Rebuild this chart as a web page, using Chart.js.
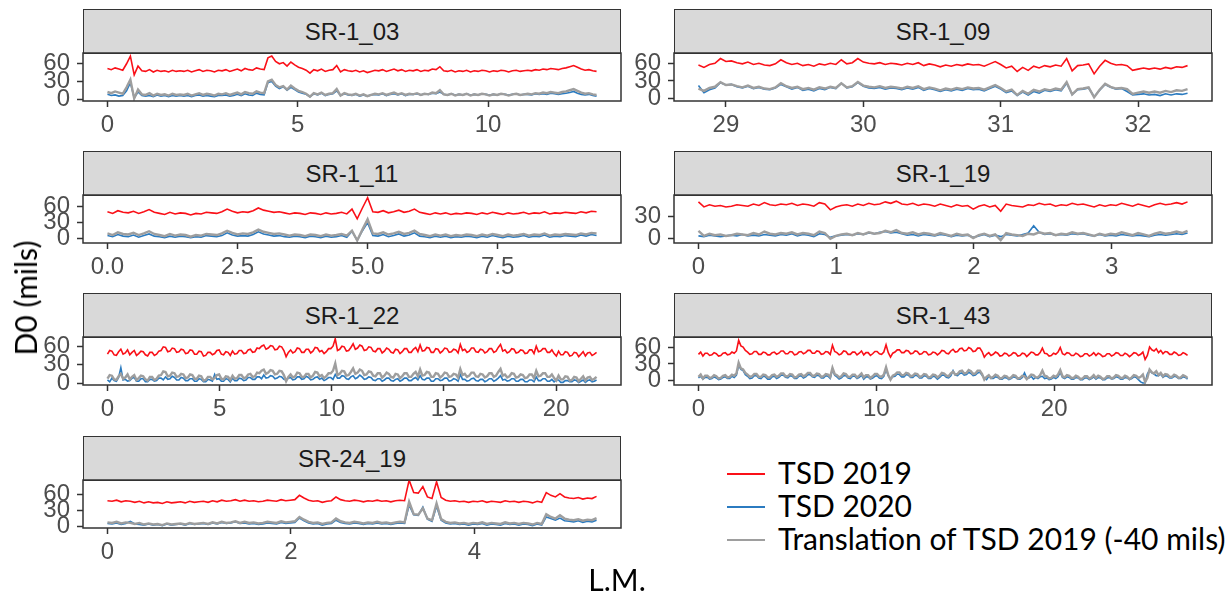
<!DOCTYPE html>
<html lang="en">
<head>
<meta charset="UTF-8">
<title>D0 along L.M. – TSD 2019 vs 2020</title>
<script src="https://cdn.jsdelivr.net/npm/chart.js"></script>
<style>
  body { margin: 0; background: #fff; }
  #fig { position: relative; width: 1231px; height: 596px; overflow: hidden; font-family: "Liberation Sans", Arial, sans-serif; }
  .strip { position: absolute; box-sizing: border-box; background: #d9d9d9; border: 1.5px solid #333; color: #1a1a1a;
           font-size: 24px; display: flex; align-items: center; justify-content: center; }
  .panel { position: absolute; }
  .txt { position: absolute; font-family: Lato, sans-serif; font-size: 30px; color: #000; white-space: nowrap; line-height: 1.2; }
  .swatch { position: absolute; height: 2px; width: 38px; }
</style>
</head>
<body>
<div id="fig"></div>
<script>
// ---- data -------------------------------------------------------------
const PANEL_NAMES = ['SR-1_03', 'SR-1_09', 'SR-1_11', 'SR-1_19', 'SR-1_22', 'SR-1_43', 'SR-24_19'];
const SERIES_NAMES = ['TSD 2019', 'TSD 2020', 'Translation of TSD 2019 (-40 mils)'];
const SHIFT = 40; // the translated series is TSD 2019 moved down by 40 mils

const Y_TICKS = ['0', '30', '60'];

// L.M. covered by each section [first, last]
const SR_1_03_LM = [0, 12.85];
const SR_1_09_LM = [28.80, 32.36];
const SR_1_11_LM = [0, 9.4];
const SR_1_19_LM = [0, 3.55];
const SR_1_22_LM = [0, 21.8];
const SR_1_43_LM = [0, 27.5];
const SR_24_19_LM = [0, 5.33];

const SR_1_03_XTICKS = ['0', '5', '10'];
const SR_1_09_XTICKS = ['29', '30', '31', '32'];
const SR_1_11_XTICKS = ['0.0', '2.5', '5.0', '7.5'];
const SR_1_19_XTICKS = ['0', '1', '2', '3'];
const SR_1_22_XTICKS = ['0', '5', '10', '15', '20'];
const SR_1_43_XTICKS = ['0', '10', '20'];
const SR_24_19_XTICKS = ['0', '2', '4'];

const SR_1_03_TSD2019 = [
  52, 50, 53, 51, 49, 60, 73, 41, 56, 48,
  47, 50, 46, 49, 47, 48, 46, 49, 47, 48,
  47, 49, 46, 48, 50, 47, 49, 48, 46, 49,
  48, 50, 47, 49, 51, 48, 52, 50, 49, 53,
  51, 50, 70, 73, 64, 60, 62, 56, 63, 58,
  54, 52, 49, 44, 50, 48, 51, 47, 49, 50,
  57, 46, 50, 48, 47, 49, 46, 48, 45, 47,
  49, 48, 50, 47, 49, 51, 48, 50, 47, 49,
  48, 50, 47, 49, 48, 51, 50, 55, 48, 47,
  49, 46, 48, 47, 49, 46, 48, 47, 49, 48,
  46, 48, 47, 49, 48, 46, 48, 49, 47, 48,
  49, 48, 50, 49, 51, 50, 52, 51, 50, 52,
  53, 55, 57, 54, 51, 49, 50, 48, 47
];
const SR_1_03_TSD2020 = [
  8, 6, 7, 5, 6, 14, 28, 2, 12, 6,
  5, 6, 4, 7, 5, 6, 4, 6, 5, 6,
  5, 6, 4, 6, 7, 5, 6, 5, 4, 6,
  6, 7, 5, 6, 8, 6, 9, 7, 6, 10,
  8, 7, 28, 30, 22, 18, 21, 15, 20, 16,
  12, 10, 8, 4, 9, 7, 10, 6, 8, 9,
  14, 6, 9, 7, 6, 8, 5, 7, 5, 7,
  8, 7, 9, 6, 8, 9, 7, 9, 6, 8,
  8, 9, 7, 9, 8, 10, 9, 12, 8, 7,
  9, 7, 8, 7, 9, 7, 8, 7, 9, 8,
  7, 8, 7, 9, 8, 7, 8, 9, 7, 8,
  8, 7, 9, 8, 9, 8, 10, 9, 8, 9,
  10, 11, 13, 10, 8, 7, 8, 6, 5
];

const SR_1_09_TSD2019 = [
  57, 53, 58, 60, 68, 63, 64, 61, 59, 62,
  58, 60, 57, 56, 59, 66, 61, 58, 60, 56,
  58, 55, 59, 57, 60, 58, 66, 59, 61, 68,
  62, 60, 59, 61, 58, 60, 59, 57, 60, 58,
  61, 56, 59, 57, 54, 57, 55, 58, 56, 59,
  57, 58, 55, 59, 63, 58, 52, 55, 46, 53,
  48, 55, 52, 56, 54, 57, 55, 68, 47, 56,
  57, 59, 42, 55, 65, 60, 57, 58, 56, 48,
  50, 52, 50, 52, 50, 53, 51, 54, 53, 56
];
const SR_1_09_TSD2020 = [
  22, 10, 15, 18, 27, 23, 24, 20, 18, 21,
  17, 19, 16, 15, 18, 24, 20, 16, 19, 14,
  16, 13, 17, 15, 19, 17, 26, 18, 20, 27,
  21, 18, 17, 19, 16, 18, 17, 15, 18, 16,
  19, 14, 17, 15, 12, 15, 13, 16, 14, 17,
  15, 16, 13, 17, 21, 16, 10, 13, 5, 11,
  6, 12, 9, 14, 12, 15, 13, 26, 7, 15,
  16, 18, 3, 14, 24, 19, 16, 17, 12, 6,
  7, 8, 6, 7, 5, 8, 6, 8, 7, 9
];

const SR_1_11_TSD2019 = [
  50, 47, 52, 49, 48, 51, 47, 50, 54, 49,
  47, 45, 49, 46, 48, 47, 44, 47, 46, 49,
  48, 47, 50, 55, 51, 48, 50, 49, 52, 57,
  53, 51, 49, 50, 48, 46, 48, 47, 45, 48,
  47, 45, 48, 46, 47, 49, 46, 55, 37, 57,
  76, 50, 49, 52, 48, 50, 53, 49, 51, 55,
  49, 47, 45, 48, 46, 48, 45, 47, 46, 48,
  47, 45, 48, 46, 49, 47, 45, 48, 46, 47,
  49, 46, 48, 47, 50, 46, 48, 47, 49, 48,
  47, 50, 48, 51, 50
];
const SR_1_11_TSD2020 = [
  6, 4, 8, 5, 4, 7, 3, 6, 9, 5,
  4, 2, 5, 3, 5, 4, 2, 4, 3, 6,
  5, 4, 6, 11, 7, 5, 6, 5, 8, 13,
  9, 7, 5, 6, 4, 3, 5, 4, 2, 5,
  4, 2, 5, 3, 4, 6, 3, 14, -3, 15,
  30, 6, 5, 8, 4, 6, 9, 5, 7, 11,
  5, 4, 2, 5, 3, 5, 2, 4, 3, 5,
  4, 2, 5, 3, 6, 4, 2, 5, 3, 4,
  6, 3, 5, 4, 7, 3, 5, 4, 6, 5,
  4, 7, 5, 8, 6
];

const SR_1_19_TSD2019 = [
  50, 43, 46, 44, 45, 43, 44, 46, 45, 44,
  47, 45, 49, 46, 45, 47, 46, 48, 45, 47,
  46, 44, 49, 47, 39, 43, 45, 46, 44, 47,
  45, 48, 46, 47, 50, 48, 51, 47, 46, 48,
  45, 47, 46, 44, 47, 45, 43, 46, 44, 45,
  40, 44, 46, 43, 45, 37, 47, 45, 44, 43,
  46, 45, 48, 46, 47, 44, 46, 45, 48, 46,
  47, 45, 43, 46, 44, 46, 45, 48, 46, 44,
  47, 45, 43, 46, 48, 46, 47, 49, 47, 50
];
const SR_1_19_TSD2020 = [
  3, 2, 4, 3, 2, 3, 4, 3, 5, 3,
  4, 3, 5, 4, 3, 5, 4, 6, 3, 5,
  4, 2, 6, 5, 1, 3, 4, 5, 4, 6,
  5, 7, 6, 8, 9, 7, 8, 6, 4, 5,
  3, 5, 4, 3, 5, 4, 2, 4, 3, 4,
  1, 3, 5, 2, 4, 2, 5, 4, 3, 5,
  7, 17, 8, 5, 6, 4, 5, 4, 6, 5,
  6, 4, 3, 5, 3, 4, 3, 5, 4, 3,
  4, 3, 2, 4, 5, 4, 5, 6, 5, 7
];

const SR_1_22_TSD2019 = [
  47, 53, 52, 46, 45, 51, 55, 47, 49, 54, 46, 50, 53, 45, 48, 52, 51, 46, 44, 50,
  50, 45, 47, 52, 53, 59, 58, 51, 52, 57, 56, 50, 51, 55, 54, 48, 49, 54, 53, 47,
  47, 52, 51, 44, 45, 50, 50, 46, 48, 53, 54, 47, 46, 51, 50, 45, 52, 47, 48, 53,
  53, 48, 49, 54, 55, 50, 51, 57, 56, 60, 62, 55, 57, 61, 60, 54, 55, 60, 59, 53,
  43, 50, 54, 49, 51, 57, 56, 50, 50, 55, 55, 49, 52, 58, 57, 51, 53, 48, 51, 56,
  56, 60, 72, 53, 55, 60, 59, 52, 53, 58, 64, 55, 57, 62, 60, 53, 54, 59, 58, 52,
  51, 56, 56, 49, 52, 57, 55, 50, 49, 55, 54, 48, 51, 56, 56, 50, 50, 55, 58, 51,
  62, 52, 53, 58, 57, 50, 50, 56, 55, 49, 52, 57, 56, 50, 51, 55, 54, 49, 63, 53,
  55, 50, 52, 57, 57, 51, 50, 55, 54, 49, 51, 56, 56, 50, 52, 58, 63, 52, 54, 49,
  51, 56, 55, 49, 50, 54, 53, 48, 49, 54, 54, 48, 60, 51, 52, 56, 56, 50, 50, 54,
  48, 44, 52, 46, 46, 51, 50, 44, 45, 50, 49, 43, 47, 51, 44, 49, 50, 45, 47, 50
];
const SR_1_22_TSD2020 = [
  5, 2, 8, 4, 3, 9, 25, 5, 6, 3, 4, 8, 9, 3, 3, 7, 7, 2, 2, 6,
  6, 3, 4, 8, 8, 5, 10, 6, 7, 11, 9, 5, 5, 9, 8, 4, 4, 7, 7, 3,
  3, 7, 6, 2, 2, 6, 5, 3, 14, 6, 7, 3, 3, 7, 6, 2, 8, 4, 4, 8,
  7, 4, 5, 9, 9, 6, 6, 10, 10, 7, 13, 8, 9, 12, 11, 7, 8, 11, 10, 6,
  5, 8, 9, 5, 6, 10, 10, 6, 7, 11, 9, 5, 6, 9, 10, 6, 8, 4, 6, 9,
  9, 6, 14, 8, 8, 12, 11, 7, 6, 10, 12, 7, 9, 13, 10, 6, 7, 10, 9, 5,
  4, 7, 7, 3, 5, 8, 8, 4, 3, 6, 7, 3, 5, 8, 8, 4, 4, 7, 9, 5,
  12, 6, 5, 8, 8, 3, 3, 7, 7, 4, 5, 8, 8, 3, 4, 7, 6, 3, 14, 6,
  6, 3, 4, 7, 8, 4, 3, 6, 6, 2, 4, 7, 7, 3, 5, 8, 12, 5, 6, 3,
  4, 7, 7, 3, 3, 6, 6, 2, 2, 5, 5, 2, 10, 4, 4, 7, 7, 3, 3, 6,
  2, 5, 5, 1, 1, 4, 4, 2, 2, 5, 4, 1, 3, 5, 1, 4, 5, 2, 3, 5
];

const SR_1_43_TSD2019 = [
  47, 51, 44, 49, 49, 45, 46, 50, 48, 44, 45, 49, 50, 46, 47, 51, 49, 53, 72, 62,
  60, 54, 51, 47, 48, 52, 52, 47, 47, 51, 50, 46, 46, 50, 51, 47, 49, 53, 53, 48,
  48, 52, 51, 46, 47, 51, 52, 48, 50, 54, 54, 49, 49, 53, 52, 47, 48, 52, 51, 47,
  63, 52, 50, 46, 48, 53, 52, 47, 47, 51, 51, 46, 49, 53, 46, 50, 50, 45, 48, 52,
  52, 48, 47, 51, 64, 50, 42, 49, 51, 55, 55, 50, 50, 54, 53, 48, 49, 53, 52, 47,
  48, 52, 51, 46, 47, 51, 50, 46, 49, 54, 53, 49, 48, 53, 56, 51, 52, 57, 58, 53,
  54, 59, 57, 52, 53, 58, 58, 52, 42, 47, 50, 45, 47, 51, 49, 44, 45, 49, 48, 44,
  46, 50, 49, 44, 45, 49, 48, 43, 47, 51, 50, 46, 46, 50, 58, 49, 48, 44, 45, 49,
  47, 51, 59, 48, 46, 50, 49, 45, 45, 49, 47, 43, 44, 48, 48, 44, 46, 50, 45, 49,
  47, 43, 44, 48, 48, 44, 46, 50, 49, 45, 45, 49, 47, 43, 46, 50, 49, 45, 47, 51,
  38, 45, 60, 55, 53, 57, 50, 54, 48, 52, 51, 47, 47, 51, 49, 45, 46, 50, 48, 45
];
const SR_1_43_TSD2020 = [
  5, 8, 3, 6, 6, 3, 4, 7, 5, 2, 3, 6, 7, 4, 4, 8, 6, 10, 28, 20,
  18, 11, 8, 4, 5, 9, 9, 5, 4, 8, 7, 3, 3, 7, 8, 4, 6, 10, 10, 6,
  5, 9, 8, 4, 4, 8, 9, 5, 7, 11, 11, 7, 6, 10, 9, 5, 5, 9, 8, 4,
  20, 10, 7, 3, 5, 9, 9, 5, 4, 8, 8, 4, 6, 10, 3, 7, 7, 3, 5, 8,
  9, 5, 4, 8, 20, 9, 3, 7, 8, 12, 11, 7, 7, 11, 10, 6, 6, 10, 9, 5,
  5, 9, 8, 4, 4, 8, 7, 3, 6, 10, 10, 6, 5, 9, 18, 10, 9, 13, 14, 10,
  11, 15, 13, 9, 10, 14, 15, 10, 5, 2, 8, 4, 4, 7, 6, 3, 3, 6, 5, 2,
  4, 7, 6, 3, 3, 6, 14, 5, 5, 8, 3, 6, 4, 7, 8, 4, 5, 2, 3, 6,
  4, 7, 15, 6, 4, 7, 6, 3, 3, 6, 5, 2, 2, 5, 5, 2, 4, 7, 3, 6,
  5, 2, 2, 5, 6, 3, 4, 7, 6, 3, 3, 6, 5, 2, 4, 7, 6, 2, -2, -4,
  -4, 12, 19, 14, 12, 9, 9, 12, 6, 9, 8, 5, 5, 8, 7, 4, 4, 7, 6, 3
];

const SR_24_19_TSD2019 = [
  48, 47, 49, 46, 48, 47, 45, 47, 44, 46,
  44, 45, 43, 46, 44, 45, 46, 44, 47, 45,
  46, 47, 45, 48, 46, 49, 47, 48, 50, 47,
  49, 47, 48, 46, 47, 49, 48, 47, 50, 48,
  49, 50, 58, 53, 49, 47, 48, 45, 47, 48,
  55, 50, 48, 47, 49, 48, 46, 48, 47, 49,
  47, 48, 46, 48, 49, 48, 86, 63, 62, 74,
  55, 52, 83, 54, 49, 47, 48, 46, 47, 45,
  47, 46, 48, 45, 47, 46, 45, 48, 46, 47,
  45, 47, 46, 44, 47, 45, 63, 58, 55, 61,
  55, 53, 52, 54, 51, 53, 52, 56
];
const SR_24_19_TSD2020 = [
  6, 5, 7, 4, 6, 10, 5, 4, 3, 5,
  3, 4, 2, 5, 3, 4, 5, 3, 6, 4,
  5, 6, 4, 7, 5, 8, 6, 7, 9, 6,
  7, 5, 6, 4, 5, 7, 6, 5, 8, 6,
  7, 8, 16, 11, 7, 5, 6, 3, 5, 6,
  12, 8, 6, 5, 7, 6, 4, 6, 5, 7,
  5, 6, 4, 6, 7, 6, 40, 22, 21, 36,
  14, 10, 38, 12, 7, 5, 6, 4, 5, 3,
  5, 4, 6, 3, 5, 4, 3, 6, 4, 5,
  3, 5, 4, 2, 5, 3, 18, 15, 12, 16,
  11, 10, 9, 11, 8, 10, 9, 12
];

// ---- layout -----------------------------------------------------------
const COL_X = [83, 674];
const ROW_Y = [53, 195, 337, 480];
const PLOT_W = 538, PLOT_H = 48, STRIP_H = 44;
const AXIS_W = 64, AXIS_H = 46, PAD_T = 12, PAD_R = 6;

const COLORS = ['#fa1018', '#2b7bc0', '#9e9e9e'];
const WIDTHS = [1.6, 1.6, 2.4];
const DRAW_ORDER = [2, 1, 0]; // grey sits on top of the 2020 line

const panels = [
  { name: PANEL_NAMES[0], col: 0, row: 0, lm: SR_1_03_LM, xt: SR_1_03_XTICKS, y: [-3.3, 78.3], s19: SR_1_03_TSD2019, s20: SR_1_03_TSD2020 },
  { name: PANEL_NAMES[1], col: 1, row: 0, lm: SR_1_09_LM, xt: SR_1_09_XTICKS, y: [-4.2, 77.5], s19: SR_1_09_TSD2019, s20: SR_1_09_TSD2020 },
  { name: PANEL_NAMES[2], col: 0, row: 1, lm: SR_1_11_LM, xt: SR_1_11_XTICKS, y: [-7.7, 81], s19: SR_1_11_TSD2019, s20: SR_1_11_TSD2020 },
  { name: PANEL_NAMES[3], col: 1, row: 1, lm: SR_1_19_LM, xt: SR_1_19_XTICKS, y: [-6.8, 59.5], s19: SR_1_19_TSD2019, s20: SR_1_19_TSD2020 },
  { name: PANEL_NAMES[4], col: 0, row: 2, lm: SR_1_22_LM, xt: SR_1_22_XTICKS, y: [-3.2, 75], s19: SR_1_22_TSD2019, s20: SR_1_22_TSD2020 },
  { name: PANEL_NAMES[5], col: 1, row: 2, lm: SR_1_43_LM, xt: SR_1_43_XTICKS, y: [-7.5, 77.8], s19: SR_1_43_TSD2019, s20: SR_1_43_TSD2020 },
  { name: PANEL_NAMES[6], col: 0, row: 3, lm: SR_24_19_LM, xt: SR_24_19_XTICKS, y: [-2.4, 86.3], s19: SR_24_19_TSD2019, s20: SR_24_19_TSD2020 }
];

// stations spread evenly over the section's L.M. range
function toPoints(values, lm) {
  const step = (lm[1] - lm[0]) / (values.length - 1);
  return values.map((v, i) => ({ x: lm[0] + i * step, y: v }));
}

// dark border round every plotting area, drawn over the lines
const panelFrame = {
  id: 'panelFrame',
  afterDatasetsDraw(chart) {
    const { ctx, chartArea: a } = chart;
    ctx.save();
    ctx.strokeStyle = '#333';
    ctx.lineWidth = 1.5;
    ctx.strokeRect(a.left, a.top, a.right - a.left, a.bottom - a.top);
    ctx.restore();
  }
};

const fig = document.getElementById('fig');
const tickFont = { family: '"Liberation Sans", Arial, sans-serif', size: 24 };

panels.forEach(p => {
  const left = COL_X[p.col], top = ROW_Y[p.row];

  const strip = document.createElement('div');
  strip.className = 'strip';
  strip.style.left = left + 'px';
  strip.style.top = (top - STRIP_H) + 'px';
  strip.style.width = PLOT_W + 'px';
  strip.style.height = (STRIP_H + 1) + 'px';
  strip.textContent = p.name;
  fig.appendChild(strip);

  const canvas = document.createElement('canvas');
  canvas.className = 'panel';
  canvas.width = AXIS_W + PLOT_W + PAD_R;
  canvas.height = PAD_T + PLOT_H + AXIS_H;
  canvas.style.left = (left - AXIS_W) + 'px';
  canvas.style.top = (top - PAD_T) + 'px';
  fig.appendChild(canvas);

  const span = p.lm[1] - p.lm[0];
  const xVals = p.xt.map(Number);
  const yVals = Y_TICKS.map(Number).filter(v => v >= p.y[0] && v <= p.y[1]);
  const translated = p.s19.map(v => v - SHIFT);

  const series = [p.s19, p.s20, translated];
  new Chart(canvas, {
    type: 'line',
    data: {
      datasets: series.map((vals, k) => ({
        label: SERIES_NAMES[k],
        data: toPoints(vals, p.lm),
        borderColor: COLORS[k],
        borderWidth: WIDTHS[k],
        order: DRAW_ORDER[k],
        pointRadius: 0,
        tension: 0,
        fill: false
      }))
    },
    options: {
      responsive: false,
      animation: false,
      devicePixelRatio: 1,
      layout: { padding: { top: PAD_T, right: PAD_R, bottom: 0, left: 0 } },
      plugins: { legend: { display: false }, tooltip: { enabled: false } },
      scales: {
        x: {
          type: 'linear',
          min: p.lm[0] - 0.05 * span,
          max: p.lm[1] + 0.05 * span,
          afterBuildTicks: s => { s.ticks = xVals.map(v => ({ value: v })); },
          afterFit: s => { s.height = AXIS_H; s.paddingLeft = 0; s.paddingRight = 0; },
          ticks: {
            autoSkip: false, maxRotation: 0, minRotation: 0, padding: 4,
            color: '#4d4d4d', font: tickFont,
            callback: (v, i) => p.xt[i]
          },
          grid: { drawOnChartArea: false, drawTicks: true, tickLength: 6, tickColor: '#333', tickWidth: 1.5 },
          border: { display: false }
        },
        y: {
          min: p.y[0],
          max: p.y[1],
          afterBuildTicks: s => { s.ticks = yVals.map(v => ({ value: v })); },
          afterFit: s => { s.width = AXIS_W; s.paddingTop = 0; s.paddingBottom = 0; },
          ticks: {
            autoSkip: false, padding: 7,
            color: '#4d4d4d', font: tickFont,
            callback: v => String(v)
          },
          grid: { drawOnChartArea: false, drawTicks: true, tickLength: 6, tickColor: '#333', tickWidth: 1.5 },
          border: { display: false }
        }
      }
    },
    plugins: [panelFrame]
  });
});

// axis titles
function addText(str, x, y, rotate) {
  const d = document.createElement('div');
  d.className = 'txt';
  d.textContent = str;
  d.style.left = x + 'px';
  d.style.top = y + 'px';
  d.style.transform = 'translate(-50%, -50%)' + (rotate ? ' rotate(-90deg)' : '');
  fig.appendChild(d);
  return d;
}
addText('D0 (mils)', 25, 298, true);
addText('L.M.', 617, 579, false);

// legend
const LEGEND_Y = [474, 507, 540];
SERIES_NAMES.forEach((name, k) => {
  const sw = document.createElement('div');
  sw.className = 'swatch';
  sw.style.left = '727px';
  sw.style.top = (LEGEND_Y[k] - 1) + 'px';
  sw.style.background = COLORS[k];
  fig.appendChild(sw);
  const t = document.createElement('div');
  t.className = 'txt';
  t.textContent = name;
  t.style.left = '778px';
  t.style.top = (LEGEND_Y[k] - 20) + 'px';
  fig.appendChild(t);
});
</script>
</body>
</html>
